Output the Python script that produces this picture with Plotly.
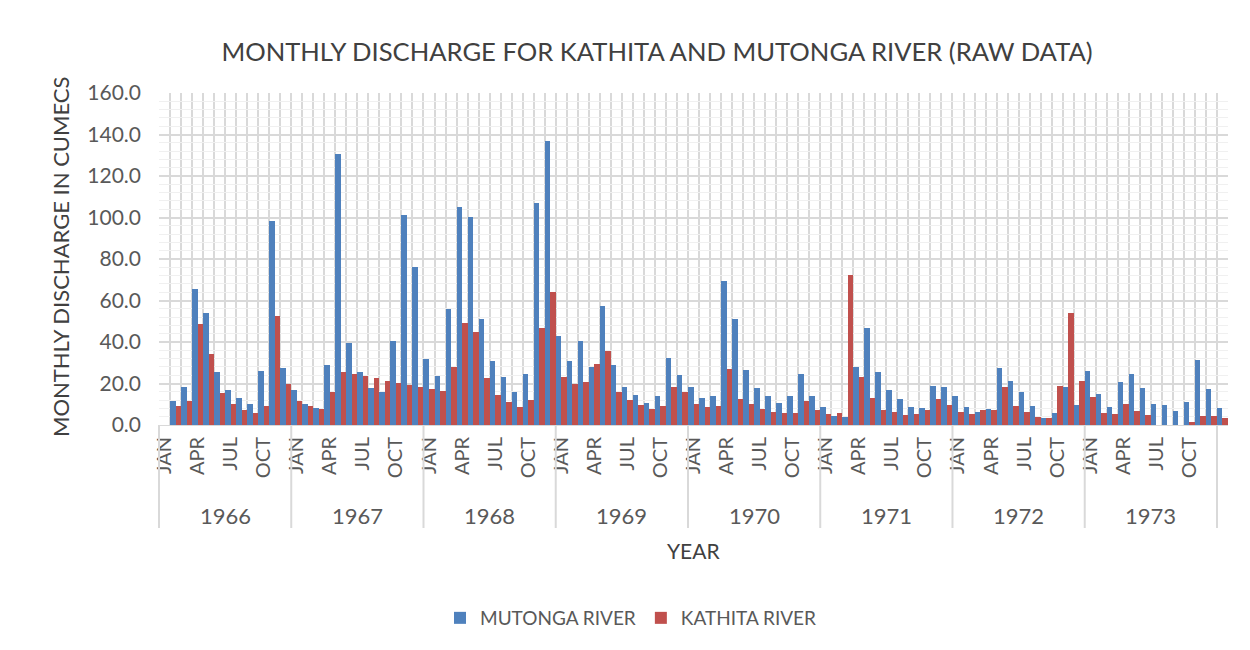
import plotly.graph_objects as go

# ---------------- data ----------------
MONTHS = ["JAN", "FEB", "MAR", "APR", "MAY", "JUN", "JUL", "AUG", "SEP", "OCT", "NOV", "DEC"]
YEARS = [1966, 1967, 1968, 1969, 1970, 1971, 1972, 1973]
SHOWN_MONTHS = ["JAN", "APR", "JUL", "OCT"]

# category slots as laid out in the chart (one trailing unlabeled slot)
SLOT_MONTHS = [m for y in YEARS for m in MONTHS] + [""]

# values per slot (first slot empty, as in the original sheet)
MUTONGA = [None,
    11.6, 18.5, 65.4, 54.2, 25.4, 16.7, 12.9, 10.1, 26.2, 98.4, 27.3, 16.7,
    10.1, 8.0, 28.8, 130.5, 39.7, 25.4, 18.0, 16.1, 40.7, 101.0, 76.0, 31.8,
    23.6, 55.9, 105.1, 100.2, 51.0, 30.9, 23.0, 15.8, 24.4, 106.9, 136.7, 42.9,
    30.9, 40.7, 28.1, 57.4, 28.9, 18.3, 14.6, 10.5, 14.1, 32.3, 24.1, 18.3,
    12.9, 14.1, 69.6, 51.0, 26.5, 18.0, 13.8, 10.6, 13.8, 24.4, 13.8, 8.7,
    4.5, 3.7, 28.1, 46.6, 25.7, 17.0, 12.5, 8.7, 8.2, 18.8, 18.3, 13.8,
    8.7, 6.4, 7.7, 27.3, 21.2, 15.9, 9.2, 3.2, 5.6, 18.3, 9.6, 26.0,
    15.1, 8.7, 20.7, 24.4, 18.0, 10.1, 9.6, 6.9, 11.1, 31.4, 17.5, 8.2]
KATHITA = [None,
    9.2, 11.6, 48.9, 34.1, 15.3, 10.3, 7.4, 5.6, 9.2, 52.3, 19.8, 11.6,
    9.2, 7.7, 15.8, 25.4, 24.4, 23.6, 22.5, 21.2, 20.4, 19.3, 18.5, 17.4,
    16.4, 28.1, 49.0, 44.9, 22.7, 14.3, 11.1, 8.7, 12.1, 46.9, 64.0, 23.2,
    19.6, 20.6, 29.6, 35.7, 15.8, 11.9, 9.6, 7.7, 9.2, 18.5, 15.8, 10.1,
    8.7, 9.2, 26.8, 12.5, 10.1, 7.7, 6.4, 5.9, 5.6, 11.4, 7.2, 5.3,
    5.9, 72.3, 23.3, 12.9, 7.2, 6.1, 4.8, 5.3, 7.2, 12.4, 9.6, 6.4,
    5.5, 7.4, 7.4, 18.3, 9.2, 6.1, 3.9, 3.2, 19.0, 54.0, 21.2, 13.7,
    5.9, 5.5, 10.1, 6.6, 5.0, 0, 0, 0, 1.3, 4.5, 4.3, 3.2]

Y_TICKS = [0, 20, 40, 60, 80, 100, 120, 140, 160]

BLUE = "#4F81BD"
RED = "#C0504D"
GRID = "#D9D9D9"
MINOR_GRID = "#F0F0F0"
TEXT = "#595959"
DARK = "#404040"
FONT = "Lato"

n_slots = len(SLOT_MONTHS)
slots = list(range(n_slots))

fig = go.Figure()
fig.add_trace(go.Bar(x=slots, y=MUTONGA, name="MUTONGA RIVER",
                     marker=dict(color=BLUE, line=dict(width=0))))
fig.add_trace(go.Bar(x=slots, y=KATHITA, name="KATHITA RIVER",
                     marker=dict(color=RED, line=dict(width=0))))

tickvals = [i for i, m in enumerate(SLOT_MONTHS) if m in SHOWN_MONTHS]
ticktext = [SLOT_MONTHS[i] for i in tickvals]
boundaries = [i - 0.5 for i in range(n_slots + 1)]

# page places the figure 8px in from the top-left; targets are screen px
OFF = 8
W, H = 1250, 650
SL, SR, ST, SB = 159, 1228, 93, 425          # plot area on screen
L, T = SL - OFF, ST - OFF
R, B = W - (SR - OFF), H - (SB - OFF)
pw, ph = W - L - R, H - T - B

def py(sy):
    return (SB - sy) / ph

def px_(sx):
    return (sx - SL) / pw

fig.update_layout(
    width=W, height=H,
    margin=dict(l=L, r=R, t=T, b=B, autoexpand=False),
    paper_bgcolor="white", plot_bgcolor="white",
    barmode="group", bargap=0, bargroupgap=0,
    font=dict(family=FONT, color=TEXT),
    title=dict(text="MONTHLY DISCHARGE FOR KATHITA AND MUTONGA RIVER (RAW DATA)",
               x=(657 - OFF) / W, xref="container", xanchor="center",
               y=1 - (52 - OFF) / H, yref="container", yanchor="middle",
               font=dict(family=FONT, size=25.6, color=DARK)),
    showlegend=True,
    legend=dict(orientation="h", x=px_(631), xanchor="center", xref="paper",
                y=py(618), yanchor="middle", yref="paper",
                font=dict(family=FONT, size=19, color=TEXT),
                itemwidth=30, traceorder="normal"),
    xaxis=dict(range=[-0.5, n_slots - 0.5], tickmode="array",
               tickvals=tickvals, ticktext=ticktext, tickangle=-90,
               tickfont=dict(family=FONT, size=20, color=TEXT),
               ticks="", showgrid=False, zeroline=False,
               showline=True, linecolor=GRID, linewidth=1,
               ticklabelstandoff=3,
               minor=dict(tickmode="array", tickvals=boundaries,
                          showgrid=True, gridcolor=GRID, gridwidth=2, ticks="")),
    yaxis=dict(range=[0, 160], tickmode="array", tickvals=Y_TICKS,
               ticktext=[f"{v:.1f}" for v in Y_TICKS],
               tickfont=dict(family=FONT, size=21, color=TEXT),
               showgrid=True, gridcolor=GRID, gridwidth=2,
               zeroline=False, ticks="", ticklabelstandoff=17,
               minor=dict(dtick=4, showgrid=True, gridcolor=MINOR_GRID, gridwidth=1, ticks="")),
)

annotations = []
for i, yr in enumerate(YEARS):
    annotations.append(dict(x=i * 12 + 5.5, xref="x", y=py(515), yref="paper",
                            text=str(yr), showarrow=False,
                            font=dict(family=FONT, size=22, color=TEXT),
                            xanchor="center", yanchor="middle"))
annotations.append(dict(x=(n_slots - 1) / 2, xref="x", y=py(550), yref="paper",
                        text="YEAR", showarrow=False,
                        font=dict(family=FONT, size=21, color=DARK),
                        xanchor="center", yanchor="middle"))
annotations.append(dict(x=px_(60), xref="paper", y=py(257), yref="paper",
                        text="MONTHLY DISCHARGE IN CUMECS", textangle=-90,
                        showarrow=False,
                        font=dict(family=FONT, size=22, color=DARK),
                        xanchor="center", yanchor="middle"))
fig.update_layout(annotations=annotations)

shapes = []
for i in range(len(YEARS) + 1):
    xb = i * 12 - 0.5
    shapes.append(dict(type="line", xref="paper", yref="paper",
                       x0=(xb + 0.5) / n_slots, x1=(xb + 0.5) / n_slots,
                       y0=0, y1=py(528), line=dict(color=GRID, width=2)))
fig.update_layout(shapes=shapes)

fig.write_html("out.html")
